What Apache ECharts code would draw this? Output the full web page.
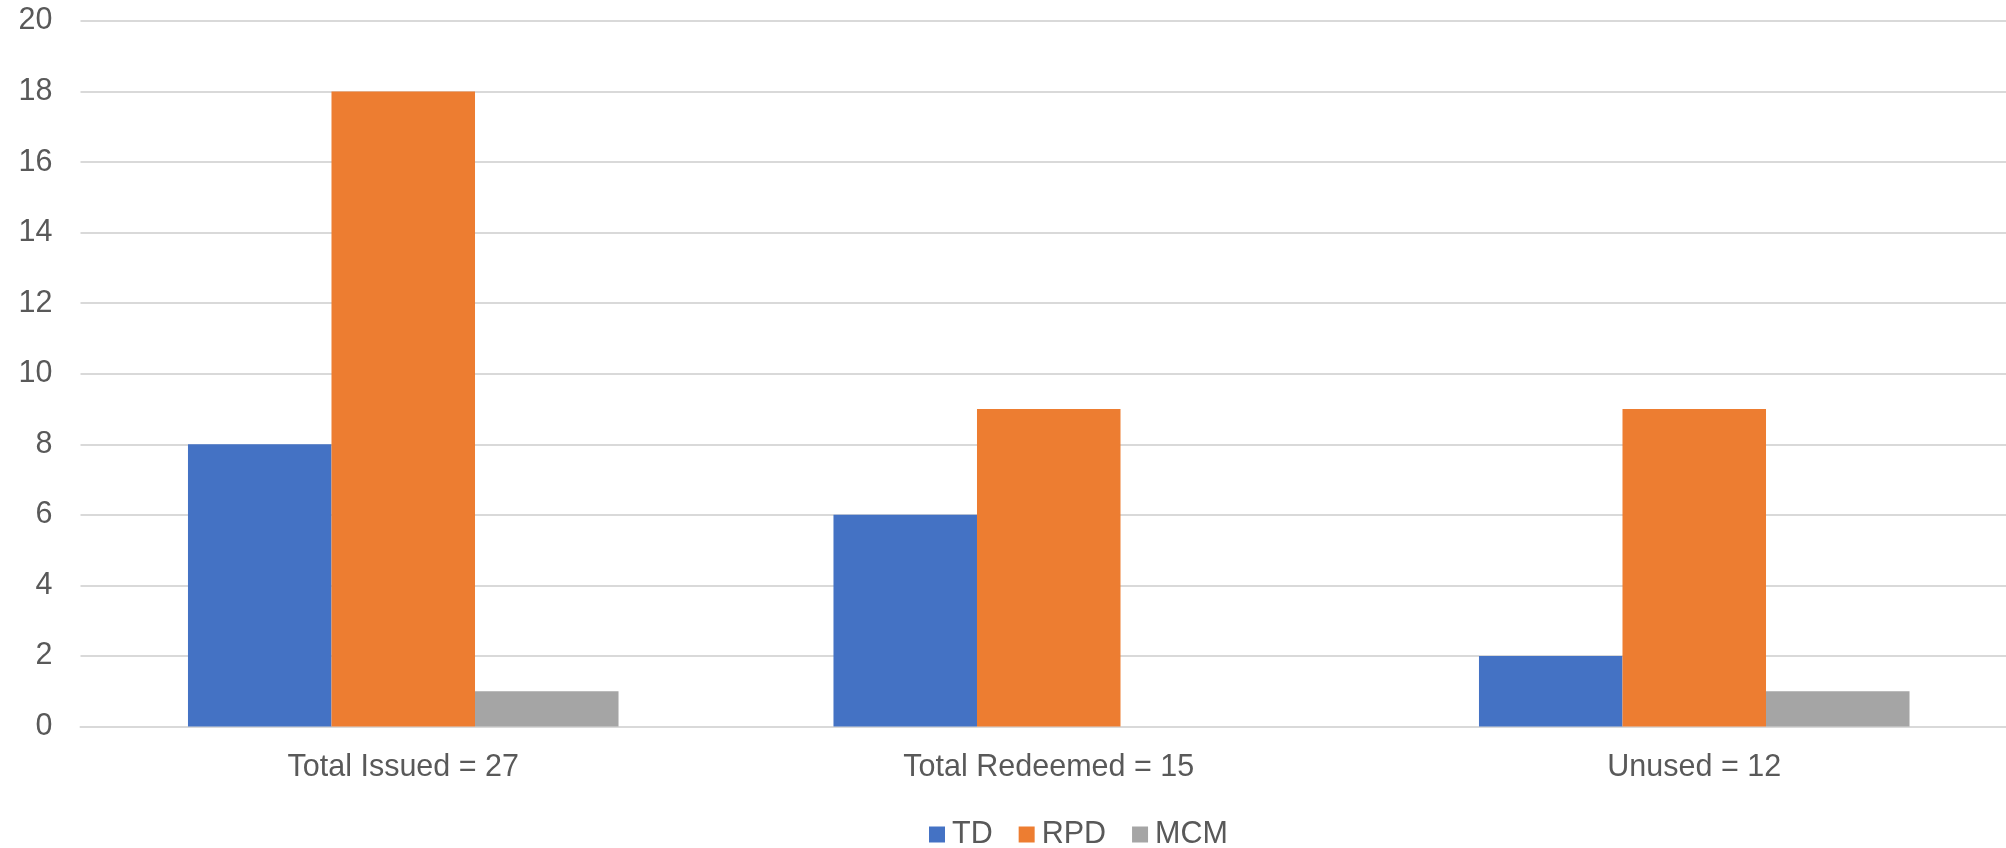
<!DOCTYPE html>
<html>
<head>
<meta charset="utf-8">
<style>
    html, body { margin: 0; padding: 0; background: #fff; overflow: hidden; }
    /* plot area runs a little past the right edge (chart was cropped) */
    #main { width: 2017px; height: 848px; }
</style>
<script src="https://cdn.jsdelivr.net/npm/echarts@6/dist/echarts.min.js"></script>
</head>
<body>
<div id="main"></div>
<script>
var categories = ['Total Issued = 27', 'Total Redeemed = 15', 'Unused = 12'];
var tdData = [8, 6, 2];
var rpdData = [18, 9, 9];
var mcmData = [1, 0, 1];
var yTicks = { min: 0, max: 20, interval: 2 };

var myChart = echarts.init(document.getElementById('main'));
var textColor = '#595959';
var fontName = 'Liberation Sans, Arial, sans-serif';
var fontSize = 30.5;

function bar(name, data, color) {
    return {
        name: name,
        type: 'bar',
        data: data,
        barGap: 0,
        barCategoryGap: '33.3%',
        itemStyle: { color: color }
    };
}

var option = {
    animation: false,
    textStyle: { fontFamily: fontName },
    grid: { left: 80.5, right: 0, top: 21, bottom: 121.5, containLabel: false },
    legend: {
        top: 819,
        left: 929,
        padding: 0,
        itemWidth: 16,
        itemHeight: 16,
        itemGap: 26,
        icon: 'rect',
        textStyle: { color: textColor, fontSize: fontSize, fontFamily: fontName, padding: [0, 0, 0, 2] },
        data: ['TD', 'RPD', 'MCM']
    },
    xAxis: {
        type: 'category',
        data: categories,
        axisTick: { show: false },
        axisLine: { lineStyle: { color: '#d9d9d9', width: 2 } },
        axisLabel: { color: textColor, fontSize: fontSize, margin: 26, fontFamily: fontName }
    },
    yAxis: {
        type: 'value',
        min: yTicks.min,
        max: yTicks.max,
        interval: yTicks.interval,
        axisLine: { show: false },
        axisTick: { show: false },
        splitLine: { lineStyle: { color: '#d9d9d9', width: 2 } },
        axisLabel: { color: textColor, fontSize: fontSize, margin: 28, fontFamily: fontName }
    },
    series: [
        bar('TD', tdData, '#4472c4'),
        bar('RPD', rpdData, '#ed7d31'),
        bar('MCM', mcmData, '#a5a5a5')
    ]
};

myChart.setOption(option, true);
</script>
</body>
</html>
